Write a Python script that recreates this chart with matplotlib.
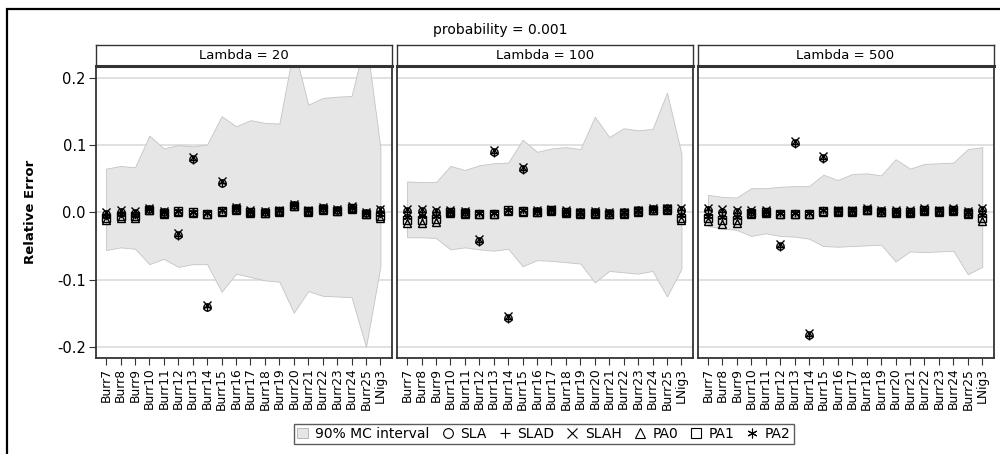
import matplotlib
matplotlib.use("Agg")
import matplotlib.pyplot as plt
from matplotlib.lines import Line2D
from matplotlib.patches import Patch, Rectangle

plt.rcParams["font.family"] = ["DejaVu Sans"]

categories = ["Burr7", "Burr8", "Burr9", "Burr10", "Burr11", "Burr12", "Burr13",
              "Burr14", "Burr15", "Burr16", "Burr17", "Burr18", "Burr19", "Burr20",
              "Burr21", "Burr22", "Burr23", "Burr24", "Burr25", "LNig3"]
lambdas = ["Lambda = 20", "Lambda = 100", "Lambda = 500"]
yticks = [-0.2, -0.1, 0.0, 0.1, 0.2]
ytick_labels = ["-0.2", "-0.1", "0.0", "0.1", "0.2"]

# 90% MC interval (upper / lower) for each panel
upper_20 = [0.065, 0.069, 0.067, 0.114, 0.095, 0.100, 0.098, 0.101, 0.143, 0.128,
            0.137, 0.133, 0.132, 0.245, 0.160, 0.170, 0.172, 0.173, 0.260, 0.095]
lower_20 = [-0.056, -0.052, -0.054, -0.077, -0.069, -0.081, -0.077, -0.077, -0.118, -0.091,
            -0.096, -0.101, -0.103, -0.149, -0.117, -0.124, -0.125, -0.126, -0.200, -0.080]
upper_100 = [0.046, 0.045, 0.045, 0.069, 0.063, 0.070, 0.073, 0.074, 0.108, 0.090,
             0.095, 0.097, 0.094, 0.142, 0.112, 0.125, 0.122, 0.124, 0.178, 0.087]
lower_100 = [-0.037, -0.037, -0.038, -0.055, -0.052, -0.055, -0.057, -0.054, -0.080, -0.071,
             -0.072, -0.074, -0.076, -0.104, -0.087, -0.089, -0.091, -0.087, -0.125, -0.084]
upper_500 = [0.026, 0.023, 0.022, 0.036, 0.036, 0.038, 0.039, 0.039, 0.056, 0.048,
             0.057, 0.058, 0.055, 0.079, 0.065, 0.072, 0.073, 0.074, 0.094, 0.097]
lower_500 = [-0.020, -0.024, -0.026, -0.035, -0.031, -0.035, -0.036, -0.039, -0.050, -0.051,
             -0.050, -0.049, -0.048, -0.073, -0.058, -0.059, -0.058, -0.057, -0.092, -0.081]

# relative errors, Lambda = 20
sla_20 = [-0.002, 0.001, -0.001, 0.005, 0.000, -0.034, 0.079, -0.140, 0.044, 0.006,
          0.001, 0.000, 0.002, 0.011, 0.002, 0.006, 0.003, 0.007, -0.001, 0.003]
slad_20 = [-0.003, 0.000, -0.002, 0.005, 0.001, -0.035, 0.078, -0.141, 0.043, 0.006,
           0.001, 0.000, 0.002, 0.011, 0.002, 0.006, 0.003, 0.007, -0.001, 0.002]
slah_20 = [0.001, 0.004, 0.002, 0.007, 0.002, -0.031, 0.082, -0.137, 0.047, 0.008,
           0.003, 0.002, 0.004, 0.013, 0.004, 0.008, 0.005, 0.009, 0.001, 0.005]
pa0_20 = [-0.011, -0.009, -0.008, 0.003, -0.002, 0.001, -0.001, -0.003, 0.001, 0.004,
          -0.001, -0.001, 0.001, 0.009, 0.001, 0.004, 0.002, 0.005, -0.002, -0.009]
pa1_20 = [-0.008, -0.006, -0.006, 0.004, -0.001, 0.002, 0.000, -0.002, 0.002, 0.005,
          0.000, -0.001, 0.002, 0.010, 0.002, 0.005, 0.002, 0.006, -0.002, -0.006]
pa2_20 = [-0.005, -0.003, -0.004, 0.005, 0.000, 0.002, 0.001, -0.001, 0.003, 0.006,
          0.001, 0.000, 0.003, 0.011, 0.003, 0.006, 0.003, 0.007, -0.001, -0.003]

# relative errors, Lambda = 100
sla_100 = [0.002, 0.002, 0.001, 0.001, 0.000, -0.043, 0.090, -0.157, 0.064, 0.002,
           0.004, 0.001, 0.000, 0.000, -0.001, 0.000, 0.003, 0.005, 0.006, 0.004]
slad_100 = [0.001, 0.001, 0.000, 0.001, 0.000, -0.044, 0.089, -0.158, 0.063, 0.002,
            0.003, 0.001, -0.001, 0.000, -0.002, -0.001, 0.002, 0.005, 0.005, 0.003]
slah_100 = [0.005, 0.005, 0.004, 0.003, 0.002, -0.040, 0.093, -0.154, 0.068, 0.004,
            0.005, 0.003, 0.001, 0.002, 0.000, 0.001, 0.004, 0.007, 0.007, 0.007]
pa0_100 = [-0.016, -0.016, -0.014, -0.001, -0.002, -0.003, -0.003, 0.002, 0.001, 0.000,
           0.002, -0.001, -0.002, -0.002, -0.003, -0.002, 0.001, 0.003, 0.004, -0.012]
pa1_100 = [-0.012, -0.011, -0.010, 0.000, -0.001, -0.002, -0.002, 0.003, 0.002, 0.001,
           0.003, 0.000, -0.001, -0.001, -0.002, -0.001, 0.002, 0.004, 0.005, -0.008]
pa2_100 = [-0.007, -0.006, -0.006, 0.001, 0.000, -0.001, -0.001, 0.004, 0.003, 0.002,
           0.004, 0.001, 0.000, 0.000, -0.001, 0.000, 0.003, 0.005, 0.006, -0.004]

# relative errors, Lambda = 500
sla_500 = [0.004, 0.001, 0.000, 0.001, 0.001, -0.050, 0.103, -0.182, 0.081, 0.002,
           0.002, 0.004, 0.002, 0.001, 0.001, 0.004, 0.002, 0.004, 0.000, 0.003]
slad_500 = [0.003, 0.000, -0.001, 0.000, 0.001, -0.051, 0.102, -0.183, 0.080, 0.002,
            0.002, 0.004, 0.001, 0.001, 0.000, 0.003, 0.002, 0.004, -0.001, 0.002]
slah_500 = [0.007, 0.005, 0.004, 0.003, 0.003, -0.047, 0.106, -0.179, 0.084, 0.004,
            0.004, 0.006, 0.004, 0.003, 0.003, 0.006, 0.004, 0.006, 0.002, 0.007]
pa0_500 = [-0.013, -0.017, -0.016, -0.002, -0.001, -0.003, -0.003, -0.003, 0.001, 0.001,
           0.001, 0.003, 0.000, -0.001, -0.001, 0.002, 0.001, 0.002, -0.002, -0.013]
pa1_500 = [-0.009, -0.012, -0.012, -0.001, 0.000, -0.002, -0.002, -0.002, 0.002, 0.002,
           0.002, 0.004, 0.001, 0.000, 0.000, 0.003, 0.002, 0.003, -0.001, -0.009]
pa2_500 = [-0.005, -0.007, -0.007, 0.000, 0.001, -0.001, -0.001, -0.001, 0.003, 0.003,
           0.003, 0.005, 0.002, 0.001, 0.001, 0.004, 0.003, 0.004, 0.000, -0.004]

panels = [
    (upper_20, lower_20, [sla_20, slad_20, slah_20, pa0_20, pa1_20, pa2_20]),
    (upper_100, lower_100, [sla_100, slad_100, slah_100, pa0_100, pa1_100, pa2_100]),
    (upper_500, lower_500, [sla_500, slad_500, slah_500, pa0_500, pa1_500, pa2_500]),
]
method_names = ["SLA", "SLAD", "SLAH", "PA0", "PA1", "PA2"]
method_markers = ["o", "+", "x", "^", "s", (6, 2, 0)]

W, H = 1000, 454
fig = plt.figure(figsize=(W / 100, H / 100), dpi=100)

# outer frame
fig.patches.append(Rectangle((7 / W, -0.05), 1.1, 1 - 9 / H + 0.05, transform=fig.transFigure,
                             fill=False, edgecolor="black", linewidth=1.6))

panel_left = [95.7, 396.7, 697.5]
panel_w = 296
panel_top, panel_bot, strip_top = 65.7, 358, 45
x = list(range(len(categories)))

for k, (up, lo, series) in enumerate(panels):
    ax = fig.add_axes([panel_left[k] / W, 1 - panel_bot / H, panel_w / W, (panel_bot - panel_top) / H])
    ax.fill_between(x, lo, up, facecolor="#e6e6e6", edgecolor="#c4c4c4", linewidth=0.6, zorder=1)
    for yv in yticks:
        ax.axhline(yv, color="#dcdcdc", linewidth=1.2, zorder=0)
    for vals, name, m in zip(series, method_names, method_markers):
        ax.plot(x, vals, linestyle="none", marker=m, markersize=5.2, markerfacecolor="none",
                markeredgecolor="black", markeredgewidth=1.0, color="black", zorder=3)
    ax.set_xlim(-0.72, 19.78)
    ax.set_ylim(-0.2164, 0.218)
    ax.set_xticks(x)
    ax.set_xticklabels(categories, rotation=90, fontsize=8.8)
    ax.set_yticks(yticks)
    if k == 0:
        ax.set_yticklabels(ytick_labels, fontsize=10.5)
    else:
        ax.set_yticklabels([])
    ax.tick_params(axis="both", direction="out", length=5, width=0.8, color="#333333", pad=2)
    if k != 0:
        ax.tick_params(axis="y", length=0)
    for s in ax.spines.values():
        s.set_color("#333333")
        s.set_linewidth(1.3)

    # strip
    sax = fig.add_axes([panel_left[k] / W, 1 - panel_top / H, panel_w / W, (panel_top - strip_top) / H])
    sax.set_xticks([])
    sax.set_yticks([])
    for s in sax.spines.values():
        s.set_color("#333333")
        s.set_linewidth(1.0)
    sax.spines["bottom"].set_linewidth(2.2)
    sax.text(0.5, 0.47, lambdas[k], ha="center", va="center", fontsize=9.5, transform=sax.transAxes)

fig.text(0.5, 1 - 30 / H, "probability = 0.001", ha="center", va="center", fontsize=10)
fig.text(30 / W, 1 - 212 / H, "Relative Error", rotation=90, ha="center", va="center",
         fontsize=9.5, fontweight="bold")

handles = [Patch(facecolor="#e6e6e6", edgecolor="#b0b0b0", linewidth=0.6, label="90% MC interval")]
for name, m in zip(method_names, method_markers):
    handles.append(Line2D([], [], linestyle="none", marker=m, markersize=7, markerfacecolor="none",
                          markeredgecolor="black", markeredgewidth=0.8, label=name))
leg = fig.legend(handles=handles, loc="center", bbox_to_anchor=(544 / W, 1 - 434 / H), ncol=7,
                 fontsize=10, frameon=True, fancybox=False, handlelength=0.8, handleheight=0.8,
                 handletextpad=0.5, columnspacing=0.9, borderpad=0.25, borderaxespad=0)
leg.get_frame().set_edgecolor("#333333")
leg.get_frame().set_linewidth(1.0)

fig.savefig("out.png", dpi=100)
